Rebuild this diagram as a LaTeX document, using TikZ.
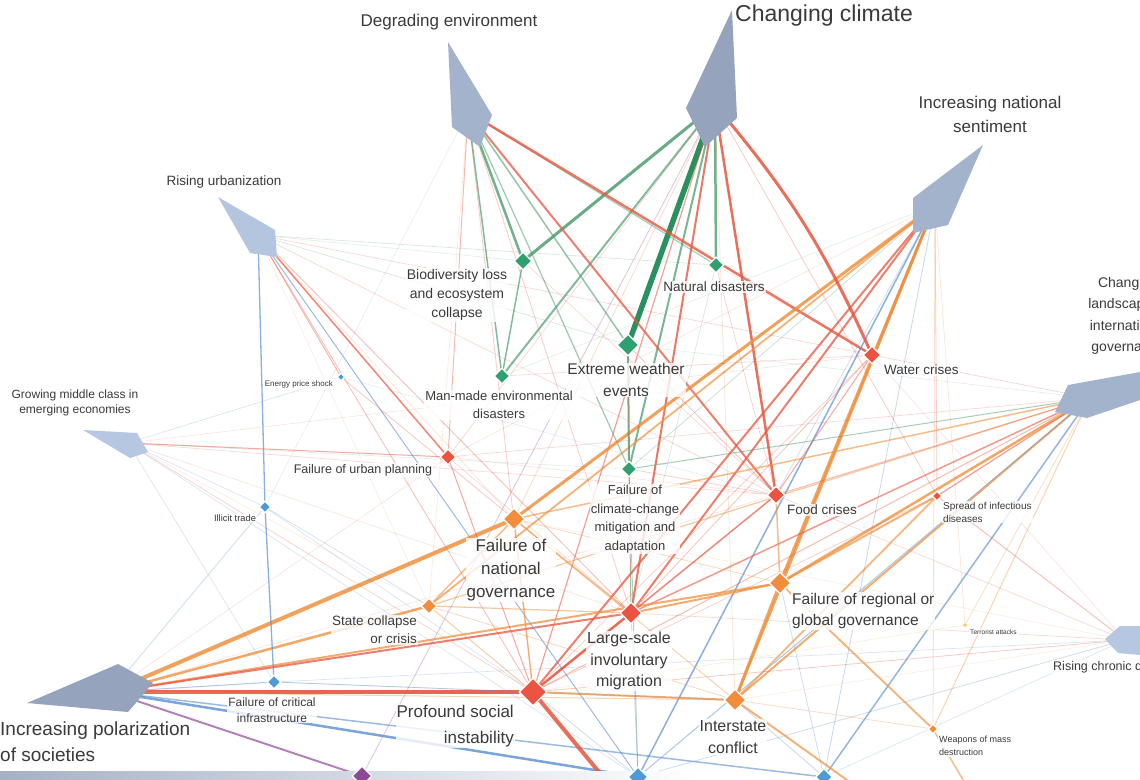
\documentclass[tikz,border=0pt]{standalone}
\usepackage{fontspec}
\setmainfont{Liberation Sans}
\usetikzlibrary{shapes.geometric}
\pgfdeclarelayer{bg}
\pgfsetlayers{bg,main}
\definecolor{cR}{HTML}{E8553F}
\definecolor{cO}{HTML}{F0913F}
\definecolor{cG}{HTML}{4E9E70}
\definecolor{cD}{HTML}{1F8B57}
\definecolor{cB}{HTML}{5B8ED0}
\definecolor{cP}{HTML}{9A56A0}
\definecolor{cY}{HTML}{F6C453}
\definecolor{fG}{HTML}{2FA070}
\definecolor{fR}{HTML}{EA5440}
\definecolor{fO}{HTML}{F28D3D}
\definecolor{fB}{HTML}{4C9AD8}
\definecolor{fP}{HTML}{8C4A96}
\definecolor{fY}{HTML}{F7C84F}
\definecolor{txt}{HTML}{3A3A3A}
\definecolor{drvA}{HTML}{95A3BC}
\definecolor{drvB}{HTML}{A4B3CC}
\definecolor{drvC}{HTML}{B6C7E2}
\tikzset{
  rsk/.style={diamond, aspect=1, inner sep=0pt, draw=white, line width=1.2pt, minimum size=#1},
  lbl/.style={text=txt, inner sep=1pt, fill=white, fill opacity=0.8, text opacity=1},
  edge/.style={line cap=round}
}
\newcommand{\fs}[2]{\fontsize{#1}{#2}\selectfont}
\begin{document}
\begin{tikzpicture}[x=1pt,y=-1pt]
\useasboundingbox (0,0) rectangle (1140,779);
% driver anchor points
\coordinate (cc) at (715,105);
\coordinate (de) at (468,112);
\coordinate (ins) at (935,205);
\coordinate (cl) at (1090,398);
\coordinate (ru) at (258,235);
\coordinate (gm) at (128,443);
\coordinate (ip) at (110,692);
\coordinate (rc) at (1125,640);
\coordinate (offA) at (622,800);
\coordinate (offB) at (875,800);
\coordinate (offC) at (975,800);
% driver shapes
\fill[drvB] (448,42) -- (492,115) -- (480,147) -- (452,127) -- cycle;
\fill[drvA] (732,10) -- (737,118) -- (705,147) -- (686,108) -- cycle;
\fill[drvB] (983,145) -- (948,225) -- (913,233) -- (913,198) -- cycle;
\fill[drvB] (1068,385) -- (1140,372) -- (1140,400) -- (1087,418) -- (1055,412) -- cycle;
\fill[drvC!90!drvB] (218,197) -- (275,230) -- (277,257) -- (250,253) -- cycle;
\fill[drvC] (83,430) -- (137,433) -- (148,452) -- (130,458) -- cycle;
\fill[drvA] (118,664) -- (153,683) -- (128,712) -- (27,703) -- cycle;
\fill[drvC] (1105,639) -- (1120,626) -- (1140,626) -- (1140,655) -- (1118,653) -- cycle;
% bottom bar
\shade[left color=drvA!85!white, right color=white] (0,771) rectangle (700,779);
% risk diamonds
\node[rsk=18, fill=fG] (bio) at (523,261) {};
\node[rsk=16, fill=fG] (nat) at (716,265) {};
\node[rsk=22, fill=fG] (ext) at (628,345) {};
\node[rsk=16, fill=fG] (man) at (502,376) {};
\node[rsk=16, fill=fG] (fcc) at (629,469) {};
\node[rsk=18, fill=fR] (wat) at (872,355) {};
\node[rsk=8, fill=fB] (eps) at (341,377) {};
\node[rsk=16, fill=fR] (fup) at (448,457) {};
\node[rsk=12, fill=fB] (ill) at (265,507) {};
\node[rsk=18, fill=fR] (food) at (776,495) {};
\node[rsk=10, fill=fR] (spr) at (937,496) {};
\node[rsk=22, fill=fO] (fng) at (514,519) {};
\node[rsk=16, fill=fO] (sc) at (429,606) {};
\node[rsk=22, fill=fR] (mig) at (631,613) {};
\node[rsk=22, fill=fO] (fr) at (780,583) {};
\node[rsk=5, fill=fY, line width=0.5pt] (ter) at (965,625) {};
\node[rsk=14, fill=fB] (fci) at (274,682) {};
\node[rsk=28, fill=fR] (psi) at (533,692) {};
\node[rsk=22, fill=fO] (ist) at (735,700) {};
\node[rsk=10, fill=fO] (wmd) at (933,729) {};
\node[rsk=20, fill=fP] (pur) at (362,776) {};
\node[rsk=20, fill=fB] (b1) at (638,777) {};
\node[rsk=17, fill=fB] (b2) at (824,777) {};
% connectors
\begin{pgfonlayer}{bg}
\fill[white] (0,0) rectangle (1140,779);
\foreach \a/\b/\c/\w/\o in {
 cc/bio/cG/3/.85, cc/man/cG/2/.7, cc/ext/cD/5.5/.95, cc/nat/cG/2.5/.8, cc/fcc/cG/2/.75, cc/food/cR/2.5/.85, cc/mig/cR/2/.8, cc/psi/cR/1.2/.55, cc/spr/cR/.8/.3, cc/fup/cR/.7/.25, cc/pur/cP/.8/.35, cc/ist/cO/.7/.25, cc/fng/cO/.8/.3,
 de/bio/cG/2.5/.8, de/man/cG/1.5/.7, de/ext/cG/1.5/.6, de/fcc/cG/1.2/.55, de/nat/cG/1.2/.5, de/wat/cR/2.5/.8, de/food/cR/2/.75, de/fup/cR/1/.4, de/mig/cR/.8/.3, de/psi/cR/.8/.3, de/sc/cO/.6/.2, de/ill/cB/.5/.2,
 ins/fng/cO/3/.85, ins/sc/cO/1.8/.7, ins/mig/cR/2/.75, ins/psi/cR/2/.75, ins/fr/cO/3/.85, ins/ist/cO/2.5/.8, ins/b1/cB/1.5/.7, ins/spr/cR/.8/.3, ins/fcc/cG/.8/.3, ins/wmd/cO/.8/.3, ins/ter/cO/.6/.25, ins/wat/cR/.6/.25, ins/food/cB/.7/.3, ins/b2/cB/.8/.35, ins/fup/cR/.5/.2, ins/man/cG/.5/.2,
 cl/fng/cO/1.5/.6, cl/sc/cO/1.2/.5, cl/mig/cR/1.5/.6, cl/fr/cO/2.5/.8, cl/ist/cO/2/.75, cl/spr/cR/1.3/.55, cl/fcc/cG/1/.5, cl/b2/cB/1.5/.65, cl/b1/cB/1/.5, cl/psi/cR/1/.4, cl/food/cR/1/.4, cl/wmd/cO/1/.4, cl/ter/cO/.8/.3, cl/wat/cR/.7/.25, cl/fup/cR/.6/.25, cl/ext/cG/.5/.2,
 ip/fng/cO/4/.85, ip/sc/cO/2.5/.8, ip/fr/cO/2/.75, ip/mig/cR/2/.75, ip/psi/cR/4/.9, ip/b1/cB/2.5/.8, ip/b2/cB/1.5/.6, ip/fci/cB/1/.5, ip/pur/cP/2/.75, ip/ist/cO/1/.4, ip/ill/cB/.8/.3, ip/fup/cR/.5/.2, ip/food/cR/.5/.2,
 ru/ill/cB/1.3/.7, ill/fci/cB/1.3/.7, ru/fup/cR/1.5/.7, ru/eps/cR/.8/.5, ru/b1/cB/1/.6, ru/wat/cR/.6/.25, ru/food/cR/.6/.25, ru/psi/cR/.8/.4, ru/mig/cR/.8/.4, ru/nat/cG/.6/.25, ru/ext/cG/.6/.25, ru/bio/cG/.5/.2, ru/fng/cO/.6/.25, ru/sc/cO/.5/.2,
 gm/fup/cR/1/.5, gm/eps/cB/.6/.25, gm/ill/cB/.6/.25, gm/food/cR/.6/.25, gm/wat/cR/.5/.2, gm/psi/cR/.6/.3, gm/fci/cB/.6/.25, gm/b1/cB/.6/.25, gm/fcc/cG/.5/.2, gm/mig/cR/.5/.2, gm/sc/cO/.5/.2,
 rc/spr/cR/1/.35, rc/psi/cR/.8/.3, rc/food/cR/.6/.25, rc/b1/cB/.8/.3, rc/mig/cR/.6/.25, rc/wat/cR/.5/.2, rc/ist/cO/.5/.2, rc/fci/cB/.6/.25, rc/fng/cO/.5/.2, rc/b2/cB/.6/.25,
 ext/fcc/cG/2/.8, bio/man/cG/1.5/.7, fng/sc/cO/1.5/.6, fng/psi/cO/1.5/.6, fng/mig/cO/1.5/.6, sc/mig/cO/1.2/.5, mig/psi/cR/2.5/.85, psi/ist/cO/2/.75, psi/offA/cR/4/.85, ist/fr/cO/3/.8, fr/wmd/cO/1.8/.7, fr/spr/cO/2/.7, mig/fr/cO/2/.75, food/mig/cR/1.5/.6, wat/food/cR/1/.5, food/fr/cO/1.5/.6, ist/offB/cO/2/.7, wmd/offC/cO/1.5/.6, fup/psi/cR/1/.5, fcc/mig/cG/1/.5, fcc/b1/cG/1/.45, sc/psi/cO/1/.45, sc/ist/cO/.8/.35, spr/psi/cR/.7/.3, spr/ist/cO/1.8/.65, wat/mig/cR/.8/.35, wat/psi/cR/.7/.3, food/psi/cR/.8/.35, fng/ist/cO/1/.4, fng/fr/cO/.8/.35, eps/fng/cR/.7/.35, eps/food/cB/.5/.2, ill/sc/cB/.6/.3, ill/psi/cB/.6/.25, fci/psi/cB/.8/.35, fci/ist/cB/.6/.25, ter/psi/cY/.5/.3, wmd/ist/cO/.8/.3, nat/mig/cG/.6/.25, nat/food/cR/.6/.3, ext/food/cR/.8/.35, ext/mig/cR/.7/.3, bio/food/cR/.6/.25, man/wat/cR/.6/.25, fcc/food/cR/.7/.3, fup/mig/cR/.6/.25, ist/b2/cB/.8/.35, fr/b2/cB/.8/.3, psi/b1/cB/.8/.3, mig/b1/cB/.8/.3, fup/food/cR/.5/.2, nat/wat/cR/.5/.2}
 { \draw[edge, draw=\c, line width=\w pt, draw opacity=\o] (\a) -- (\b); }
\draw[edge, draw=cR, line width=3pt, draw opacity=.85] (cc) to[bend left=8] (wat);
\end{pgfonlayer}
% driver labels
\node[lbl, font=\fs{17}{22}] (tde) at (449,22) {Degrading environment};
\node[lbl, font=\fs{23}{26}] (tcc) at (824,16) {Changing climate};
\node[lbl, font=\fs{17}{24}, align=center] (tins) at (990,114) {Increasing national\\sentiment};
\node[lbl, font=\fs{13.5}{16}] (tru) at (224,182) {Rising urbanization};
\node[lbl, font=\fs{12}{15.5}, align=center] (tgm) at (75,403) {Growing middle class in\\emerging economies};
\node[lbl, font=\fs{14}{21.5}, align=center] (tcl) at (1128,316) {Changing\\landscape of\\international\\governance};
\node[lbl, font=\fs{19}{26}, align=left, anchor=west] (tip) at (-1,742) {Increasing polarization\\of societies};
\node[lbl, font=\fs{12.5}{15}, anchor=west] (trc) at (1052,667) {Rising chronic diseases};
% risk labels
\node[lbl, font=\fs{14}{19}, align=center] (tbio) at (457,295) {Biodiversity loss\\and ecosystem\\collapse};
\node[lbl, font=\fs{13.5}{16}] (tnat) at (714,287) {Natural disasters};
\node[lbl, font=\fs{15.5}{21.5}, align=center] (text) at (626,380) {Extreme weather\\events};
\node[lbl, font=\fs{13}{17.5}, align=center] (tman) at (499,405) {Man-made environmental\\disasters};
\node[lbl, font=\fs{13}{18.7}, align=center] (tfcc) at (635,519) {Failure of\\climate-change\\mitigation and\\adaptation};
\node[lbl, font=\fs{13.5}{16}, anchor=west] (twat) at (883,370) {Water crises};
\node[lbl, font=\fs{8}{10}, anchor=east] (teps) at (334,384) {Energy price shock};
\node[lbl, font=\fs{12.5}{15}] (tfup) at (363,470) {Failure of urban planning};
\node[lbl, font=\fs{9.3}{11}] (till) at (235,518) {Illicit trade};
\node[lbl, font=\fs{13.5}{16}, anchor=west] (tfood) at (786,510) {Food crises};
\node[lbl, font=\fs{10}{13}, align=left, anchor=west] (tspr) at (942,512) {Spread of infectious\\diseases};
\node[lbl, font=\fs{17}{23}, align=center] (tfng) at (511,570) {Failure of\\national\\governance};
\node[lbl, font=\fs{13.5}{18}, align=right, anchor=east] (tsc) at (418,630) {State collapse\\or crisis};
\node[lbl, font=\fs{16}{21.5}, align=center] (tmig) at (629,661) {Large-scale\\involuntary\\migration};
\node[lbl, font=\fs{15.5}{21}, align=left, anchor=west] (tfr) at (791,611) {Failure of regional or\\global governance};
\node[lbl, font=\fs{6.6}{8}, anchor=west] (tter) at (969,632) {Terrorist attacks};
\node[lbl, font=\fs{12}{15.5}, align=center] (tfci) at (272,710) {Failure of critical\\infrastructure};
\node[lbl, font=\fs{17}{26}, align=right, anchor=east] (tpsi) at (515,726) {Profound social\\instability};
\node[lbl, font=\fs{16}{22}, align=center] (tist) at (733,737) {Interstate\\conflict};
\node[lbl, font=\fs{9}{12.5}, align=left, anchor=west] (twmd) at (938,746) {Weapons of mass\\destruction};
\end{tikzpicture}
\end{document}
